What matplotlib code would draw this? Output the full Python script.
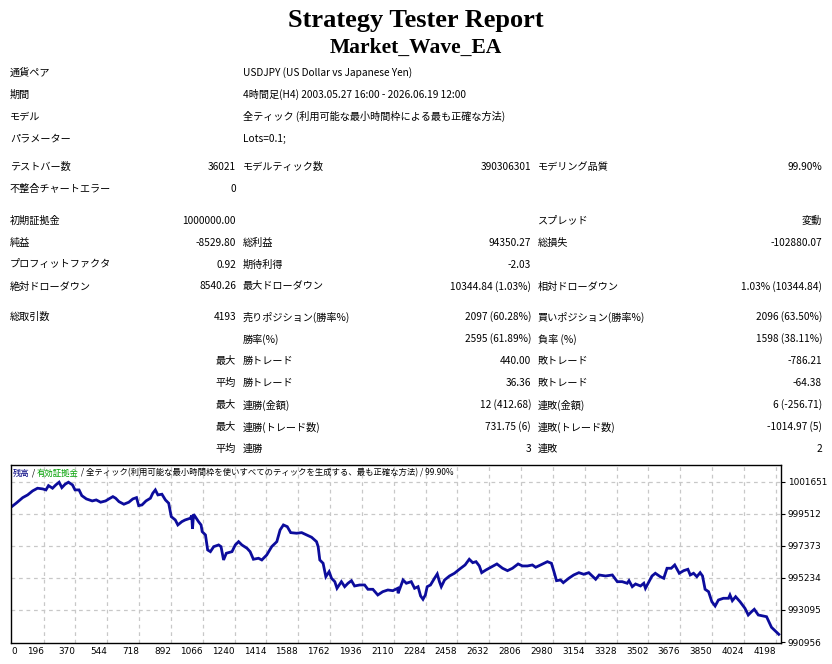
import numpy as np
import matplotlib
matplotlib.use('Agg')
import matplotlib.pyplot as plt

plt.rcParams['font.family'] = ['Noto Sans CJK JP', 'DejaVu Sans']

#report header
title = 'Strategy Tester Report'
ea_name = 'Market_Wave_EA'

#info rows: (label, value)
info_rows = [('通貨ペア', 'USDJPY (US Dollar vs Japanese Yen)'),
             ('期間', '4時間足(H4) 2003.05.27 16:00 - 2026.06.19 12:00'),
             ('モデル', '全ティック (利用可能な最小時間枠による最も正確な方法)'),
             ('パラメーター', 'Lots=0.1;')]

#stat rows: label1, value1, label2, value2, label3, value3
stat_rows = [('テストバー数', '36021', 'モデルティック数', '390306301', 'モデリング品質', '99.90%'),
             ('不整合チャートエラー', '0', '', '', '', ''),
             ('初期証拠金', '1000000.00', '', '', 'スプレッド', '変動'),
             ('純益', '-8529.80', '総利益', '94350.27', '総損失', '-102880.07'),
             ('プロフィットファクタ', '0.92', '期待利得', '-2.03', '', ''),
             ('絶対ドローダウン', '8540.26', '最大ドローダウン', '10344.84 (1.03%)', '相対ドローダウン', '1.03% (10344.84)'),
             ('総取引数', '4193', '売りポジション(勝率%)', '2097 (60.28%)', '買いポジション(勝率%)', '2096 (63.50%)'),
             ('', '', '勝率(%)', '2595 (61.89%)', '負率 (%)', '1598 (38.11%)'),
             ('', '最大', '勝トレード', '440.00', '敗トレード', '-786.21'),
             ('', '平均', '勝トレード', '36.36', '敗トレード', '-64.38'),
             ('', '最大', '連勝(金額)', '12 (412.68)', '連敗(金額)', '6 (-256.71)'),
             ('', '最大', '連勝(トレード数)', '731.75 (6)', '連敗(トレード数)', '-1014.97 (5)'),
             ('', '平均', '連勝', '3', '連敗', '2')]

#balance curve (trade number, balance)
trade_no = [0, 24, 60, 87, 114, 141, 169, 187, 201, 223, 241, 259, 274, 292, 310, 332,
            346, 368, 383, 408, 440, 462, 486, 513, 531, 553, 568, 586, 613, 640, 662,
            682, 694, 712, 734, 758, 771, 785, 799, 821, 840, 858, 872, 894, 908, 930,
            948, 976, 984, 988, 994, 1003, 1021, 1035, 1041, 1059, 1071, 1086, 1104,
            1131, 1144, 1158, 1173, 1204, 1222, 1240, 1258, 1286, 1303, 1321, 1349,
            1367, 1394, 1421, 1449, 1467, 1485, 1506, 1525, 1557, 1585, 1612, 1639,
            1666, 1675, 1684, 1702, 1717, 1735, 1748, 1766, 1778, 1802, 1820, 1838,
            1857, 1874, 1902, 1929, 1947, 1974, 2001, 2028, 2056, 2083, 2110, 2112,
            2139, 2157, 2184, 2202, 2221, 2235, 2248, 2261, 2271, 2289, 2311, 2326,
            2338, 2348, 2366, 2393, 2420, 2447, 2478, 2501, 2520, 2538, 2556, 2569,
            2592, 2619, 2652, 2683, 2710, 2737, 2768, 2792, 2819, 2846, 2864, 2891,
            2928, 2950, 2964, 2978, 3000, 3015, 3045, 3072, 3100, 3127, 3154, 3192,
            3211, 3246, 3283, 3310, 3337, 3364, 3374, 3392, 3410, 3437, 3455, 3464,
            3483, 3500, 3518, 3545, 3564, 3582, 3605, 3624, 3649, 3673, 3696, 3709,
            3727, 3745, 3763, 3776, 3790, 3809, 3827, 3845, 3863, 3890, 3918, 3926,
            3939, 3957, 3981, 4008, 4026, 4044, 4059, 4081, 4108, 4126, 4139, 4153,
            4193]
balance = [1000000, 1000227, 1000601, 1000782, 1001049, 1001229, 1001183, 1001116,
           1001403, 1001229, 1001450, 1001630, 1001269, 1001497, 1001630, 1001450,
           1001116, 1001116, 1000735, 1000514, 1000380, 1000447, 1000294, 1000380,
           1000514, 1000668, 1000561, 1000334, 1000160, 1000294, 1000514, 1000601,
           1000066, 1000113, 1000380, 1000561, 1000895, 1001116, 1000782, 1000828,
           1000447, 1000227, 999331, 999110, 998776, 998997, 999110, 999224, 999400,
           998509, 999491, 999331, 998997, 998776, 998329, 998108, 997105, 996992,
           997326, 997440, 997326, 996437, 996885, 996992, 997440, 997660, 997440,
           997219, 996992, 996484, 996551, 996437, 996771, 997326, 997660, 998442,
           998776, 998663, 998262, 998222, 998262, 998108, 997954, 997660, 997326,
           996437, 996216, 995321, 995655, 995214, 994987, 994545, 994987, 994652,
           994880, 995053, 994699, 994766, 994766, 994478, 994478, 994098, 994318,
           994432, 994385, 994545, 994211, 995100, 994880, 994987, 994545, 994652,
           994031, 993810, 994098, 994652, 994766, 995214, 995501, 994987, 994652,
           995100, 995367, 995548, 995815, 996103, 996484, 996256, 996323, 996036,
           995588, 995768, 995949, 996170, 995882, 995722, 995882, 996170, 996036,
           996036, 996103, 995949, 996103, 996323, 996216, 995655, 995053, 995100,
           994920, 995214, 995434, 995588, 995481, 995588, 995147, 995434, 995367,
           995434, 994987, 994987, 994880, 995053, 994652, 994833, 994699, 994880,
           994545, 994987, 995367, 995548, 995321, 995214, 995882, 995882, 996103,
           995548, 995722, 995815, 995434, 995548, 995321, 995588, 995367, 994478,
           994318, 993650, 993362, 993763, 993877, 993877, 994098, 993716, 993984,
           993650, 993208, 992761, 992981, 993142, 992761, 992694, 992647, 992313,
           991939, 991470]

#axis ticks
y_ticks = [990956, 993095, 995234, 997373, 999512, 1001651]
x_grid = [174 * k for k in range(1, 25)]
x_labels = [str(v + 22) for v in x_grid]

W, H = 832, 664
fig = plt.figure(figsize=(W / 100, H / 100), dpi=100)

def px(x, y):
    return x / W, 1 - y / H

fig.text(*px(416, 20), title, ha='center', va='center', fontsize=19,
         fontweight='bold', family='Liberation Serif')
fig.text(*px(416, 48), ea_name, ha='center', va='center', fontsize=15.5,
         fontweight='bold', family='Liberation Serif')

fs = 7.3
row_y = [72.5, 94.5, 116.5, 138.5]
for (lab, val), y in zip(info_rows, row_y):
    fig.text(*px(10, y), lab, ha='left', va='center', fontsize=fs)
    fig.text(*px(243, y), val, ha='left', va='center', fontsize=fs)

stat_y = [167, 189, 220.5, 242.5, 264.5, 286.5, 317, 339, 361, 383, 405, 427, 449]
col_x = [(10, 'left'), (236, 'right'), (243, 'left'), (531, 'right'),
         (538, 'left'), (822, 'right')]
for row, y in zip(stat_rows, stat_y):
    for txt, (x, ha) in zip(row, col_x):
        if txt:
            fig.text(*px(x, y), txt, ha=ha, va='center', fontsize=fs)

#balance chart
ax = fig.add_axes([11 / W, 1 - 643 / H, 770 / W, 178 / H])
ax.plot(trade_no, balance, color='#0c0c9c', lw=2.0, solid_joinstyle='miter')
ax.set_xlim(-4, 4205)
ax.set_ylim(990890, 1002780)

for xv in x_grid:
    ax.axvline(xv, color='#c8c8c8', lw=0.9, ls=(0, (3, 3)), zorder=0)
for yv in y_ticks[1:]:
    ax.axhline(yv, color='#c8c8c8', lw=0.9, ls=(0, (3, 3)), zorder=0)

ax.set_xticks([])
ax.yaxis.tick_right()
ax.set_yticks(y_ticks)
ax.set_yticklabels([str(v) for v in y_ticks], fontsize=6.4, family='DejaVu Sans')
ax.tick_params(axis='y', length=3, width=0.8, pad=2)
for s in ax.spines.values():
    s.set_linewidth(1.0)
    s.set_color('black')

tr = ax.get_xaxis_transform()
ax.text(16, -0.045, '0', ha='center', va='center', fontsize=6.4,
        family='DejaVu Sans', transform=tr)
for xv, lab in zip(x_grid, x_labels):
    ax.text(xv, -0.045, lab, ha='right', va='center', fontsize=6.4,
            family='DejaVu Sans', transform=tr)

#legend header inside the chart
pieces = [('残高', '#000080'), (' / ', 'black'), ('有効証拠金', '#00a000'),
          (' / 全ティック(利用可能な最小時間枠を使いすべてのティックを生成する、最も正確な方法) / 99.90%', 'black')]
renderer = fig.canvas.get_renderer()
x0 = 13
for txt, col in pieces:
    t = fig.text(*px(x0, 473), txt, ha='left', va='center', fontsize=6.0, color=col)
    bb = t.get_window_extent(renderer)
    x0 += bb.width

fig.savefig('out.png', dpi=100, facecolor='white')
